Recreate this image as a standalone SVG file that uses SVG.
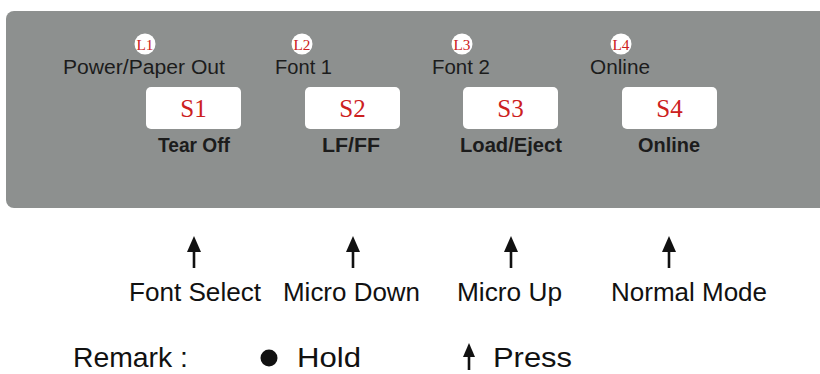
<svg xmlns="http://www.w3.org/2000/svg" width="820" height="374" viewBox="0 0 820 374">
<defs>
<style>
.lbl{font-family:"Liberation Sans",Arial,sans-serif;font-size:20px;fill:#1c1c1c}
.bld{font-family:"Liberation Sans",Arial,sans-serif;font-size:20px;font-weight:bold;fill:#1c1c1c;text-anchor:middle}
.sw{fill:#ffffff}
.st{font-family:"Liberation Serif","Times New Roman",serif;font-size:25px;fill:#cc2020;text-anchor:middle}
.led{fill:#ffffff}
.lt{font-family:"Liberation Serif","Times New Roman",serif;font-size:15px;fill:#cc2020;text-anchor:middle}
.bot{font-family:"Liberation Sans",Arial,sans-serif;font-size:26px;fill:#111111}
.rem{font-family:"Liberation Sans",Arial,sans-serif;font-size:28px;fill:#111111}
.shaft{stroke:#111111;stroke-width:2.6}
.head{fill:#111111}
</style>
</defs>
<rect width="820" height="374" fill="#ffffff"/>
<rect id="panel" x="6" y="11" width="830" height="197" rx="8" fill="#8d908f"/>

<g id="L1"><circle class="led" cx="145" cy="44" r="10.5"/><text class="lt" x="145" y="49.5" textLength="17" lengthAdjust="spacingAndGlyphs">L1</text><text class="lbl" x="63" y="74" textLength="162" lengthAdjust="spacingAndGlyphs">Power/Paper Out</text></g>
<g id="L2"><circle class="led" cx="302" cy="44" r="10.5"/><text class="lt" x="302" y="49.5" textLength="17" lengthAdjust="spacingAndGlyphs">L2</text><text class="lbl" x="275" y="74" textLength="57" lengthAdjust="spacingAndGlyphs">Font 1</text></g>
<g id="L3"><circle class="led" cx="462" cy="44" r="10.5"/><text class="lt" x="462" y="49.5" textLength="17" lengthAdjust="spacingAndGlyphs">L3</text><text class="lbl" x="432" y="74" textLength="58" lengthAdjust="spacingAndGlyphs">Font 2</text></g>
<g id="L4"><circle class="led" cx="621" cy="44" r="10.5"/><text class="lt" x="621" y="49.5" textLength="17" lengthAdjust="spacingAndGlyphs">L4</text><text class="lbl" x="590" y="74" textLength="60" lengthAdjust="spacingAndGlyphs">Online</text></g>

<g id="S1"><rect class="sw" x="146" y="87" width="95" height="42" rx="5"/><text class="st" x="193.5" y="117">S1</text><text class="bld" x="194" y="152" textLength="72" lengthAdjust="spacingAndGlyphs">Tear Off</text></g>
<g id="S2"><rect class="sw" x="305" y="87" width="95" height="42" rx="5"/><text class="st" x="352.5" y="117">S2</text><text class="bld" x="351" y="152" textLength="58" lengthAdjust="spacingAndGlyphs">LF/FF</text></g>
<g id="S3"><rect class="sw" x="463" y="87" width="95" height="42" rx="5"/><text class="st" x="510.5" y="117">S3</text><text class="bld" x="511" y="152" textLength="102" lengthAdjust="spacingAndGlyphs">Load/Eject</text></g>
<g id="S4"><rect class="sw" x="622" y="87" width="95" height="42" rx="5"/><text class="st" x="669.5" y="117">S4</text><text class="bld" x="669" y="152" textLength="62" lengthAdjust="spacingAndGlyphs">Online</text></g>

<g id="connectors">
<line class="shaft" x1="194" y1="248" x2="194" y2="268"/><polygon class="head" points="194,236 187,252 201,252"/>
<line class="shaft" x1="353" y1="248" x2="353" y2="268"/><polygon class="head" points="353,236 346,252 360,252"/>
<line class="shaft" x1="511" y1="248" x2="511" y2="268"/><polygon class="head" points="511,236 504,252 518,252"/>
<line class="shaft" x1="669" y1="248" x2="669" y2="268"/><polygon class="head" points="669,236 662,252 676,252"/>
</g>

<g id="labels">
<text class="bot" x="129" y="301" textLength="132" lengthAdjust="spacingAndGlyphs">Font Select</text>
<text class="bot" x="283" y="301" textLength="137" lengthAdjust="spacingAndGlyphs">Micro Down</text>
<text class="bot" x="457" y="301" textLength="105" lengthAdjust="spacingAndGlyphs">Micro Up</text>
<text class="bot" x="611" y="301" textLength="156" lengthAdjust="spacingAndGlyphs">Normal Mode</text>
</g>

<g id="remark">
<text class="rem" x="73" y="367" textLength="115" lengthAdjust="spacingAndGlyphs">Remark :</text>
<circle cx="269" cy="358" r="8.5" fill="#111111"/>
<text class="rem" x="297" y="367" textLength="64" lengthAdjust="spacingAndGlyphs">Hold</text>
<line class="shaft" x1="469" y1="353" x2="469" y2="370"/><polygon class="head" points="469,343 463,357 475,357"/>
<text class="rem" x="493" y="367" textLength="79" lengthAdjust="spacingAndGlyphs">Press</text>
</g>
</svg>
